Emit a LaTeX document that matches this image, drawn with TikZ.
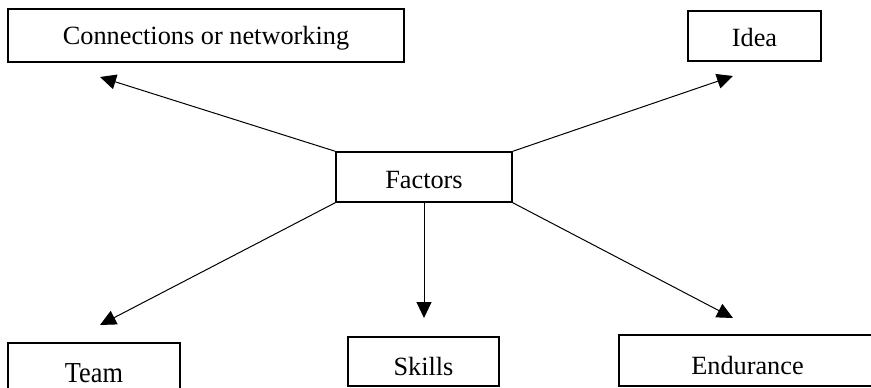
\documentclass[tikz,border=0pt]{standalone}
\usepackage{fontspec}
\setmainfont{Liberation Serif}
\usetikzlibrary{arrows.meta}

\begin{document}
\begin{tikzpicture}[x=1pt,y=-1pt,
  box/.style={draw, line width=1.4pt, rectangle, inner sep=0pt, text depth=0pt,
    font=\fontsize{26.3}{30}\selectfont},
  link/.style={line width=1pt, -{Triangle[length=16pt,width=15pt]}}]
  \useasboundingbox (0,0) rectangle (871,388);

  % factor boxes
  \node[box, minimum width=396pt, minimum height=53pt, text height=19pt]
    (conn) at (206,35.5) {Connections or networking};
  \node[box, minimum width=133pt, minimum height=50pt, text height=20pt]
    (idea) at (754.5,36) {Idea};
  \node[box, minimum width=176pt, minimum height=50pt, text height=22pt]
    (factors) at (424,177) {Factors};
  \node[box, minimum width=172pt, minimum height=60pt, text height=18pt]
    (team) at (94,373) {\scalebox{1}[1.1]{Team}};
  \node[box, minimum width=151pt, minimum height=49pt, text height=27pt]
    (skills) at (423.5,361.5) {Skills};
  \node[box, minimum width=257pt, minimum height=51pt, text height=27pt]
    (endur) at (747.5,360.5) {Endurance};

  % arrow tips
  \coordinate (tconn) at (100,77);
  \coordinate (tidea) at (733,76);
  \coordinate (tteam) at (100,325);
  \coordinate (tskills) at (424,318);
  \coordinate (tendur) at (733,318);

  % connectors
  \draw[link] (factors.north west) -- (tconn);
  \draw[link] (factors.north east) -- (tidea);
  \draw[link] (factors.south west) -- (tteam);
  \draw[link] (factors.south) -- (tskills);
  \draw[link] (factors.south east) -- (tendur);
\end{tikzpicture}
\end{document}
